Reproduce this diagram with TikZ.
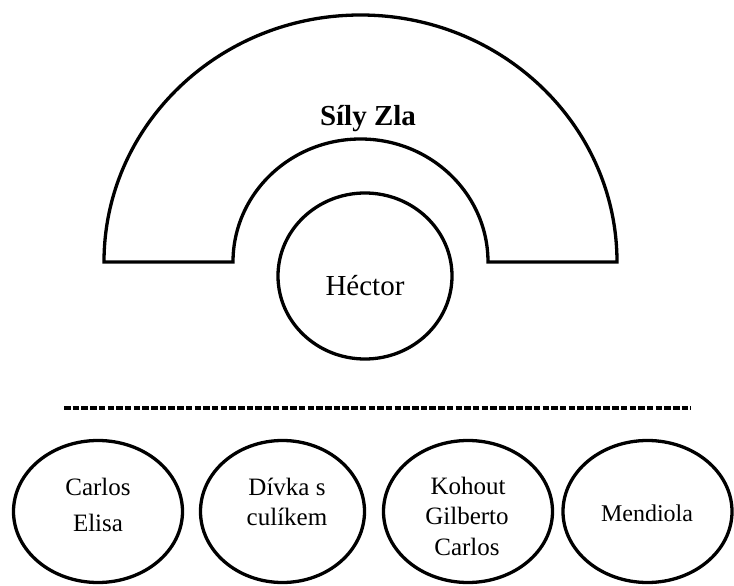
\documentclass[tikz,border=0pt]{standalone}
\usepackage{fontspec}
\setmainfont{Liberation Serif}
\usetikzlibrary{shapes.geometric}
\begin{document}
\begin{tikzpicture}[x=1pt,y=-1pt,
  outline/.style={line width=3.3pt},
  person/.style={draw,ellipse,outline,inner sep=0pt},
  txt/.style={anchor=base,inner sep=0pt,font=\fontsize{25}{30}\selectfont},
  bigtxt/.style={anchor=base,inner sep=0pt,font=\fontsize{29}{34}\selectfont}]
\useasboundingbox (0,0) rectangle (734,586);

% the arch of the forces of evil
\draw[outline,line join=miter] (104,262)
  arc[start angle=180,end angle=360,x radius=256.5,y radius=247]
  -- (488,262)
  arc[start angle=0,end angle=-180,x radius=127.5,y radius=123]
  -- cycle;
\node[bigtxt,font=\fontsize{29}{34}\selectfont\bfseries] (zla) at (368,125) {Síly Zla};

% Héctor in the middle
\node[person,minimum width=174pt,minimum height=166pt] (hector) at (365,276) {};
\node[bigtxt] (hectortxt) at (365,295) {Héctor};

% dividing line
\coordinate (dl) at (64,408);
\coordinate (dr) at (691,408);
\draw[line width=3.4pt,dash pattern=on 6.5pt off 2.2pt] (dl) -- (dr);

% bottom row
\node[person,minimum width=169pt,minimum height=142pt] (e1) at (98,511.5) {};
\node[txt] (e1a) at (98,495) {Carlos};
\node[txt] (e1b) at (98,531) {Elisa};

\node[person,minimum width=164pt,minimum height=142pt] (e2) at (282.5,511.5) {};
\node[txt] (e2a) at (287,495) {Dívka s};
\node[txt] (e2b) at (287,525) {culíkem};

\node[person,minimum width=169pt,minimum height=142pt] (e3) at (468,511.5) {};
\node[txt] (e3a) at (468,494) {Kohout};
\node[txt] (e3b) at (467,524) {Gilberto};
\node[txt] (e3c) at (467,555) {Carlos};

\node[person,minimum width=169pt,minimum height=142pt] (e4) at (647.5,511.5) {};
\node[txt,font=\fontsize{24}{29}\selectfont] (e4a) at (647,521) {Mendiola};
\end{tikzpicture}
\end{document}
